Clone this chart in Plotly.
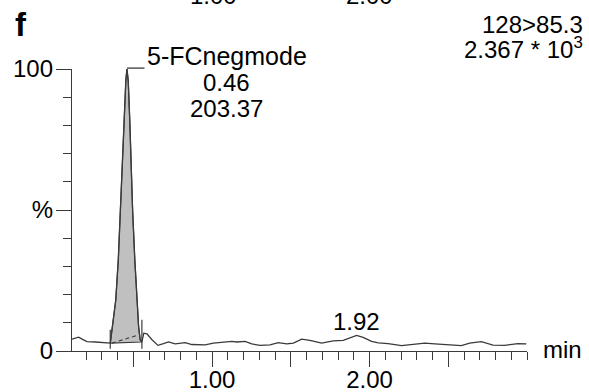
import plotly.graph_objects as go

# ---- data (time in min, intensity in %) ----
time = [0.110, 0.152, 0.174, 0.205, 0.258, 0.342, 0.353, 0.356, 0.368, 0.388,
        0.404, 0.417, 0.427, 0.439, 0.452, 0.459, 0.467, 0.477, 0.486, 0.495,
        0.509, 0.521, 0.533, 0.543, 0.554, 0.566, 0.586, 0.618, 0.656, 0.691,
        0.723, 0.765, 0.829, 0.871, 0.956, 1.008, 1.051, 1.125, 1.157, 1.209,
        1.252, 1.304, 1.368, 1.420, 1.474, 1.516, 1.569, 1.621, 1.696, 1.769,
        1.833, 1.875, 1.918, 1.959, 2.013, 2.055, 2.118, 2.203, 2.287, 2.351,
        2.414, 2.498, 2.583, 2.636, 2.710, 2.784, 2.858, 2.942, 2.996]
intensity = [4.2, 4.9, 4.2, 3.3, 3.2, 2.8, 2.8, 4.0, 8.7, 18.1,
             32.3, 49.9, 64.1, 81.7, 95.9, 100.0, 95.9, 81.7, 64.1, 49.9,
             32.3, 18.1, 8.7, 4.0, 3.2, 6.3, 6.1, 4.0, 2.0, 2.6,
             3.2, 2.5, 3.0, 2.3, 2.2, 2.8, 3.0, 3.4, 3.2, 3.4,
             2.5, 2.0, 2.2, 3.0, 2.5, 2.8, 4.2, 3.8, 2.8, 3.6,
             3.8, 4.6, 5.5, 4.8, 3.4, 2.9, 2.6, 1.9, 2.3, 2.8,
             2.5, 2.3, 1.9, 2.8, 3.3, 2.1, 2.0, 2.6, 2.5]

peak_name = "5-FCnegmode"
peak_rt = 0.46
peak_area = 203.37
minor_peak_rt = 1.92
transition = "128>85.3"
max_signal = "2.367 * 10<sup>3</sup>"
panel_label = "f"

int_start = 0.353          # integration start (min)
int_end = 0.554            # integration end (min)
int_marker_top = [7.5, 11.1]
dash_line_t = [0.364, 0.528]
dash_line_i = [2.8, 5.6]

x_range = [0.11, 3.0]
y_range = [0, 100]
x_tickvals = [0.5, 1.0, 1.5, 2.0, 2.5]
x_ticktext = ["", "1.00", "", "2.00", ""]
y_tickvals = [0, 50, 100]
y_ticktext = ["0", "%", "100"]

# ---- layout geometry (pixels) ----
W, H = 589, 392
L, R, T, B = 72, 62, 68.5, 40.7
PW, PH = W - L - R, H - T - B

def px_x(px):
    return (px - L) / PW

def px_y(py):
    return (H - B - py) / PH

def dx(t):
    return (t - x_range[0]) / (x_range[1] - x_range[0])

LINE = "#3a3a3a"
FONT = "Liberation Sans, Arial, sans-serif"
FS = 24

fig = go.Figure()

# filled integrated peak
sel = [i for i, t in enumerate(time) if int_start <= t <= int_end]
fig.add_trace(go.Scatter(
    x=[time[i] for i in sel] + [time[sel[0]]],
    y=[intensity[i] for i in sel] + [intensity[sel[0]]],
    mode="lines", fill="toself", fillcolor="#c0c0c0",
    line=dict(color=LINE, width=1.2), hoverinfo="skip", showlegend=False))

# chromatogram trace
fig.add_trace(go.Scatter(x=time, y=intensity, mode="lines",
                         line=dict(color=LINE, width=1.3), showlegend=False))

# integration markers
for t, top in zip([int_start, int_end], int_marker_top):
    fig.add_trace(go.Scatter(x=[t, t], y=[0.8, top], mode="lines",
                             line=dict(color=LINE, width=1.2), showlegend=False))
fig.add_trace(go.Scatter(x=dash_line_t, y=dash_line_i, mode="lines",
                         line=dict(color=LINE, width=1.1, dash="4px,3px"),
                         showlegend=False))

# invisible trace so the overlay axes are drawn
fig.add_trace(go.Scatter(x=x_range, y=y_range, mode="lines", xaxis="x2", yaxis="y2",
                         line=dict(width=0), hoverinfo="skip", showlegend=False))

# leader line from the apex
apex_t = time[intensity.index(max(intensity))]
fig.add_shape(type="line", xref="paper", yref="paper",
              x0=dx(apex_t), y0=px_y(67.6), x1=px_x(144.5), y1=px_y(67.6),
              line=dict(color=LINE, width=1.3))

def ann(text, x, y, xanchor="center", yanchor="middle", size=FS, bold=False,
        xref="paper", yref="paper"):
    fig.add_annotation(text=f"<b>{text}</b>" if bold else text, x=x, y=y,
                       xref=xref, yref=yref, xanchor=xanchor, yanchor=yanchor,
                       showarrow=False, font=dict(family=FONT, size=size, color="#000"))

ann(panel_label, px_x(21), px_y(24), size=33, bold=True)
ann(peak_name, px_x(226.5), px_y(55), size=25)
ann(f"{peak_rt:.2f}", px_x(226), px_y(82))
ann(f"{peak_area:.2f}", px_x(226), px_y(108.5))
ann(f"{minor_peak_rt:.2f}", minor_peak_rt, px_y(321.5), xref="x")
ann(transition, px_x(585), px_y(24), xanchor="right")
ann(max_signal, px_x(585), px_y(47), xanchor="right")
ann("min", px_x(541), px_y(349.5), xanchor="left")
# cut-off tick labels of the panel above
ann("1.00", px_x(213), px_y(-5))
ann("2.00", px_x(369), px_y(-5))

tickfont = dict(family=FONT, size=FS, color="#000")

fig.update_layout(
    width=W, height=H, margin=dict(l=L, r=R, t=T, b=B),
    paper_bgcolor="white", plot_bgcolor="white", showlegend=False,
    xaxis=dict(range=x_range, tickmode="array", tickvals=x_tickvals,
               ticktext=x_ticktext, ticklen=15, ticks="outside", tickcolor=LINE,
               tickwidth=1.3, showline=True, linecolor=LINE, linewidth=1.4,
               showgrid=False, zeroline=False, automargin=False,
               tickfont=tickfont, ticklabelstandoff=-8),
    yaxis=dict(range=y_range, tickmode="array", tickvals=y_tickvals,
               ticktext=y_ticktext, ticklen=15, ticks="outside", tickcolor=LINE,
               tickwidth=1.3, showline=True, linecolor=LINE, linewidth=1.4,
               showgrid=False, zeroline=False, automargin=False,
               tickfont=tickfont, ticklabelstandoff=-2),
    xaxis2=dict(range=x_range, overlaying="x", anchor="y", side="bottom",
                tickmode="linear", tick0=0, dtick=0.1, ticks="outside", ticklen=8,
                tickcolor=LINE, tickwidth=1.3, showticklabels=False,
                showline=False, showgrid=False, zeroline=False, automargin=False),
    yaxis2=dict(range=y_range, overlaying="y", anchor="x", side="left",
                tickmode="linear", tick0=0, dtick=10, ticks="outside", ticklen=8,
                tickcolor=LINE, tickwidth=1.3, showticklabels=False,
                showline=False, showgrid=False, zeroline=False, automargin=False),
)

fig.write_html("out.html")
